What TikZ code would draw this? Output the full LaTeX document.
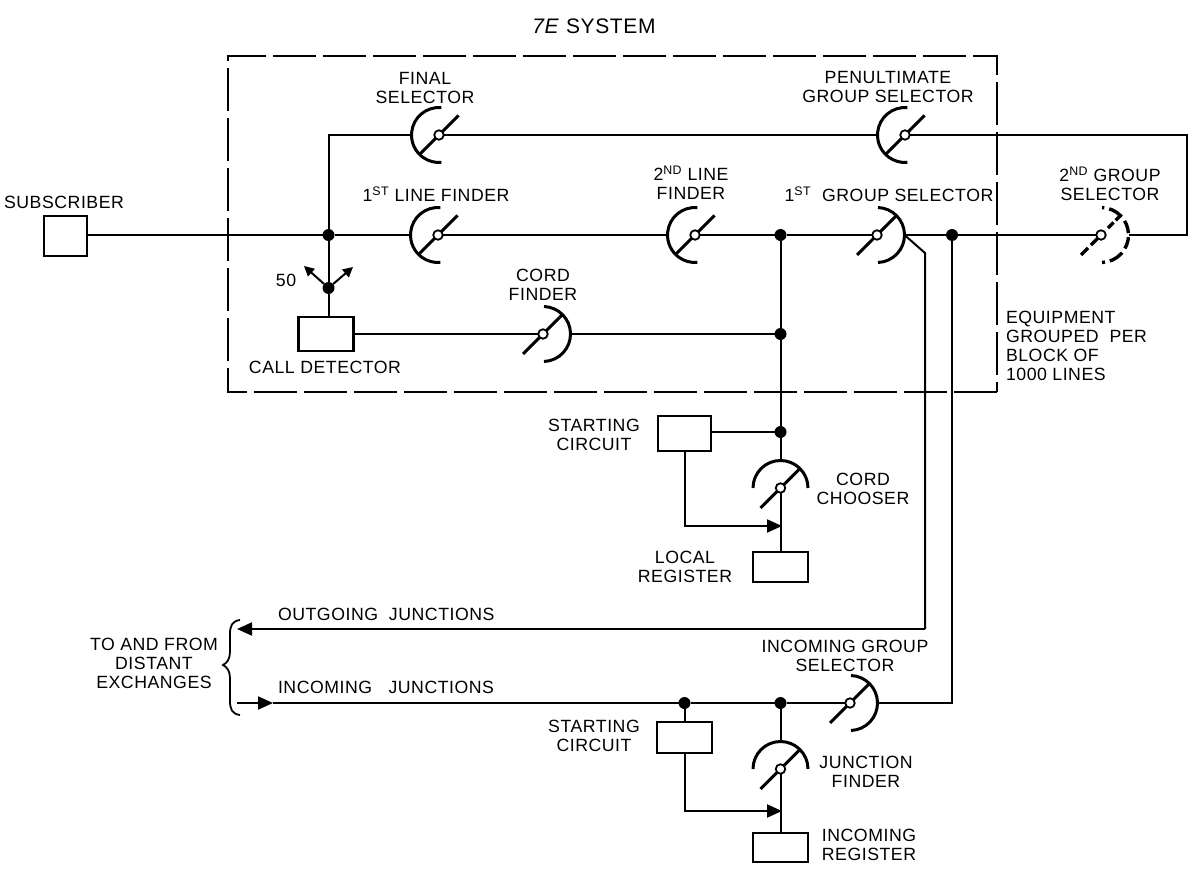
\documentclass[tikz,border=0pt]{standalone}
\usepackage{fontspec}
\setmainfont[LetterSpace=3]{Liberation Sans}
\usetikzlibrary{arrows.meta}
\tikzset{
  x=1pt,y=-1pt,
  wire/.style={line width=2pt,line join=miter},
  txt/.style={inner sep=0pt,outer sep=0pt,align=center,font=\fontsize{17.7}{19}\selectfont,text=black},
  boxn/.style={draw,line width=2.5pt,fill=white,inner sep=0pt,outer sep=0pt},
  dotn/.style={circle,fill=black,inner sep=0pt,minimum size=12pt,outer sep=0pt},
  pivot/.style={circle,draw,line width=1.8pt,fill=white,inner sep=0pt,minimum size=9.5pt,outer sep=0pt},
  sarc/.style={line width=3pt,line cap=butt},
  lever/.style={line width=3pt},
  plainarc/.style={},
  plainlever/.style={},
  dasharc/.style={line width=3.4pt,dash pattern=on 3 off 5 on 15 off 5 on 12 off 4 on 13 off 5 on 15 off 5 on 3},
  dashlever/.style={line width=3.4pt,dash pattern=on 10 off 4 on 10 off 14 on 8 off 3 on 9},
  arrowed/.style={-{Triangle[length=15pt,width=13pt]}},
  smallarrow/.style={-{Triangle[length=10pt,width=10pt]}}
}
% name, position, start angle, end angle, contact angle, lever sign, look
\newcommand{\swt}[7]{%
  \begin{scope}[shift={(#2)}]
    \draw[sarc,#7arc] (#3:27.5pt) arc[start angle=#3,end angle=#4,radius=27.5pt];
    \draw[lever,#7lever] (#6*-20,#6*20) -- (#6*19.5,#6*-19.5);
    \coordinate (#1-a) at (#5:27.5pt);
    \node[pivot] (#1) at (0,0) {};
  \end{scope}}
\begin{document}
\begin{tikzpicture}
\useasboundingbox (0,0) rectangle (1194,877);
% enclosure
\coordinate (bxA) at (997,392);
\coordinate (bxB) at (228,392);
\coordinate (bxC) at (228,56);
\coordinate (bxD) at (997,56);
\draw[line width=2pt,dash pattern=on 43 off 7] (bxA) -- (bxB) -- (bxC) -- (bxD) -- cycle;
% switches
\swt{fs}{439,135}{85}{275}{180}{1}{plain}
\swt{pgs}{905,135}{85}{275}{180}{1}{plain}
\swt{lfa}{438,235}{85}{275}{180}{1}{plain}
\swt{lfb}{695,235}{85}{275}{180}{1}{plain}
\swt{gsa}{877,235}{-88}{88}{0}{1}{plain}
\swt{gsb}{1101,235}{-88}{88}{0}{1}{dash}
\swt{cf}{543,334}{-88}{88}{0}{1}{plain}
\swt{igs}{850,703}{-88}{88}{0}{1}{plain}
\swt{cc}{780.5,488}{0}{180}{90}{1}{plain}
\swt{jf}{780.5,769}{0}{180}{90}{1}{plain}
% boxes
\node[boxn,minimum width=43pt,minimum height=40pt] (sub) at (65.5,236) {};
\node[boxn,minimum width=55pt,minimum height=34pt] (cd) at (326,334) {};
\node[boxn,minimum width=53pt,minimum height=35pt] (sca) at (684.5,433.5) {};
\node[boxn,minimum width=55pt,minimum height=30pt] (lr) at (780.5,567) {};
\node[boxn,minimum width=55pt,minimum height=31pt] (scb) at (684.5,737.5) {};
\node[boxn,minimum width=55pt,minimum height=29pt] (ir) at (780.5,847.5) {};
% dots
\node[dotn] (da) at (328.5,235) {};
\node[dotn] (db) at (328.5,288) {};
\node[dotn] (dc) at (780.5,235) {};
\node[dotn] (dd) at (780.5,334) {};
\node[dotn] (de) at (780.5,432) {};
\node[dotn] (df) at (952,235) {};
\node[dotn] (dg) at (684.5,703) {};
\node[dotn] (dh) at (780.5,703) {};
% free points
\coordinate (tl) at (328.5,135);
\coordinate (rt) at (1187,135);
\coordinate (rb) at (1187,235);
\coordinate (ka) at (925,253);
\coordinate (kb) at (925,629);
\coordinate (oe) at (237,629);
\coordinate (ia) at (237,703);
\coordinate (ib) at (273,703);
\coordinate (ic) at (952,703);
\coordinate (ua) at (304,266);
\coordinate (ub) at (353,267);
\coordinate (sa) at (685,526);
\coordinate (sb) at (782,526);
\coordinate (sc) at (685,811);
\coordinate (sd) at (782,811);
% wires
\draw[wire] (sub.east |- da) -- (da) -- (lfa-a);
\draw[wire] (lfa) -- (lfb-a);
\draw[wire] (lfb) -- (dc) -- (gsa);
\draw[wire] (gsa-a) -- (df) -- (gsb);
\draw[wire] (gsb-a) -- (rb) -- (rt) -- (pgs);
\draw[wire] (pgs-a) -- (fs);
\draw[wire] (fs-a) -- (tl) -- (da);
\draw[wire] (da) -- (db) -- (db |- cd.north);
\draw[wire,smallarrow] (db) -- (ua);
\draw[wire,smallarrow] (db) -- (ub);
\draw[wire] (cd) -- (cf);
\draw[wire] (cf-a) -- (dd);
\draw[wire] (dc) -- (dd) -- (de) -- (cc-a);
\draw[wire] (cc) -- (cc |- lr.north);
\draw[wire] (sca.east |- de) -- (de);
\draw[wire,arrowed] (sca.south -| sa) -- (sa) -- (sb);
\draw[wire] (gsa-a) -- (ka) -- (kb);
\draw[wire,arrowed] (kb) -- (oe);
\draw[wire,arrowed] (ia) -- (ib);
\draw[wire] (ib) -- (dg) -- (dh) -- (igs);
\draw[wire] (igs-a) -- (ic) -- (df);
\draw[wire] (dg) -- (dg |- scb.north);
\draw[wire] (dh) -- (jf-a);
\draw[wire] (jf) -- (jf |- ir.north);
\draw[wire,arrowed] (scb.south -| sc) -- (sc) -- (sd);
% brace
\draw[line width=1.8pt] (240,620) .. controls (232,621) and (230,626) .. (230,634) -- (230,652) .. controls (230,659) and (227,663) .. (223,665) .. controls (227,667) and (230,671) .. (230,678) -- (230,701) .. controls (230,709) and (232,714) .. (240,715);
% labels
\node[txt,font=\fontsize{21}{23}\selectfont] (t0) at (594,26) {\textit{7E} SYSTEM};
\node[txt] (t1) at (425,88) {FINAL\\SELECTOR};
\node[txt] (t2) at (888,87) {PENULTIMATE\\GROUP SELECTOR};
\node[txt] (t3) at (64,202) {SUBSCRIBER};
\node[txt] (t4) at (436,194) {1\textsuperscript{ST} LINE FINDER};
\node[txt] (t5) at (691,183) {2\textsuperscript{ND} LINE\\FINDER};
\node[txt] (t6) at (889,194) {1\textsuperscript{ST}\ \ GROUP SELECTOR};
\node[txt] (t7) at (1110,184) {2\textsuperscript{ND} GROUP\\SELECTOR};
\node[txt] (t8) at (286,280) {50};
\node[txt] (t9) at (325,367) {CALL DETECTOR};
\node[txt] (t10) at (543,285) {CORD\\FINDER};
\node[txt,anchor=west,align=left] (t11) at (1006,346) {EQUIPMENT\\GROUPED\ \ PER\\BLOCK OF\\1000 LINES};
\node[txt] (t12) at (594,435) {STARTING\\CIRCUIT};
\node[txt] (t13) at (863,489) {CORD\\CHOOSER};
\node[txt] (t14) at (685,567) {LOCAL\\REGISTER};
\node[txt,anchor=west] (t15) at (278,614) {OUTGOING\ \ JUNCTIONS};
\node[txt,anchor=west] (t16) at (278,687) {INCOMING\ \ \ JUNCTIONS};
\node[txt] (t17) at (154,663) {TO\ AND\ FROM\\DISTANT\\EXCHANGES};
\node[txt] (t18) at (845,656) {INCOMING\ GROUP\\SELECTOR};
\node[txt] (t19) at (594,736) {STARTING\\CIRCUIT};
\node[txt] (t20) at (866,772) {JUNCTION\\FINDER};
\node[txt] (t21) at (869,845) {INCOMING\\REGISTER};
\end{tikzpicture}
\end{document}
